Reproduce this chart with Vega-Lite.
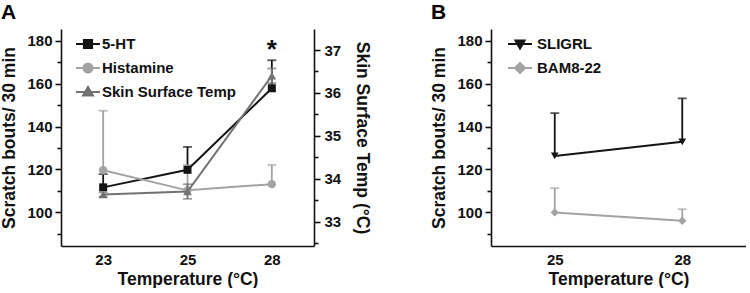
{
  "$schema": "https://vega.github.io/schema/vega-lite/v6.json",
  "padding": {"left": 0, "top": 2, "right": 0, "bottom": 0},
  "spacing": 59,
  "config": {
    "font": "Liberation Sans",
    "view": {"stroke": null},
    "axis": {
      "labelFont": "Liberation Sans", "labelFontSize": 15, "labelFontWeight": "bold", "labelColor": "#111111",
      "titleFont": "Liberation Sans", "titleFontSize": 17.5, "titleFontWeight": "bold", "titleColor": "#111111",
      "domainColor": "#111111", "domainWidth": 1.6, "tickColor": "#111111", "tickWidth": 1.6, "grid": false,
      "labelOverlap": false
    },
    "legend": {"labelFont": "Liberation Sans", "labelFontSize": 15, "labelFontWeight": "bold", "labelColor": "#111111"},
    "title": {"font": "Liberation Sans", "fontSize": 21, "fontWeight": "bold", "color": "#000000", "anchor": "start", "frame": "bounds", "offset": 6}
  },
  "datasets": {
    "a": [
      {"series": "5-HT", "temp": "23", "mean": 111.6, "upper": 117.8},
      {"series": "5-HT", "temp": "25", "mean": 119.8, "upper": 130.5},
      {"series": "5-HT", "temp": "28", "mean": 157.9, "upper": 171.0},
      {"series": "Histamine", "temp": "23", "mean": 119.6, "upper": 147.4},
      {"series": "Histamine", "temp": "25", "mean": 110.2, "upper": 122.0},
      {"series": "Histamine", "temp": "28", "mean": 113.1, "upper": 122.1}
    ],
    "skin": [
      {"series": "Skin Surface Temp", "temp": "23", "mean": 33.63, "lower": 33.58, "upper": 33.68},
      {"series": "Skin Surface Temp", "temp": "25", "mean": 33.70, "lower": 33.53, "upper": 33.87},
      {"series": "Skin Surface Temp", "temp": "28", "mean": 36.40, "lower": 36.23, "upper": 36.57}
    ],
    "star": [{"temp": "28", "y": 177.5, "label": "*"}],
    "b": [
      {"series": "SLIGRL", "temp": "25", "mean": 126.3, "upper": 146.3},
      {"series": "SLIGRL", "temp": "28", "mean": 132.9, "upper": 153.2},
      {"series": "BAM8-22", "temp": "25", "mean": 99.9, "upper": 111.2},
      {"series": "BAM8-22", "temp": "28", "mean": 96.0, "upper": 101.4}
    ]
  },
  "resolve": {"scale": {"color": "independent", "x": "independent", "y": "independent"}, "legend": {"color": "independent"}},
  "hconcat": [
    {
      "title": {"text": "A"},
      "width": 253,
      "height": 217,
      "resolve": {"scale": {"y": "independent"}, "axis": {"y": "independent"}},
      "layer": [
        {
          "data": {"name": "a"},
          "resolve": {"axis": {"y": "independent"}},
          "encoding": {
            "x": {"field": "temp", "type": "ordinal", "scale": {"type": "point", "padding": 0.5, "domain": ["23", "25", "28"]},
                  "axis": {"title": "Temperature (°C)", "labelAngle": 0, "ticks": false, "labelPadding": 6, "titlePadding": 3}}
          },
          "layer": [
            {
              "mark": {"type": "rule", "strokeWidth": 1.8},
              "encoding": {
                "y": {"field": "mean", "type": "quantitative", "scale": {"domain": [84.2, 185.6], "nice": false, "zero": false},
                      "axis": {"title": "Scratch bouts/ 30 min", "orient": "left", "values": [100, 120, 140, 160, 180],
                               "format": "d", "tickSize": 6, "labelPadding": 3, "titlePadding": 8}},
                "y2": {"field": "upper"},
                "color": {"field": "series", "type": "nominal"}
              }
            },
            {
              "mark": {"type": "tick", "thickness": 1.8, "size": 9},
              "encoding": {
                "y": {"field": "upper", "type": "quantitative",
                      "axis": {"title": null, "orient": "left", "values": [90, 110, 130, 150, 170], "labels": false, "domain": false, "tickSize": 4}},
                "color": {"field": "series", "type": "nominal"}
              }
            },
            {
              "mark": {"type": "line", "strokeWidth": 2},
              "encoding": {
                "y": {"field": "mean", "type": "quantitative", "axis": null},
                "color": {"field": "series", "type": "nominal",
                  "scale": {"domain": ["5-HT", "Histamine", "Skin Surface Temp"], "range": ["#141414", "#a3a3a3", "#727272"]},
                  "legend": {"orient": "none", "legendX": 14, "legendY": 2, "title": null, "symbolSize": 576, "symbolStrokeWidth": 2,
                    "labelOffset": 1, "rowPadding": 2, "padding": 0,
                    "encode": {"symbols": {"update": {
                      "shape": {"signal": "datum.value === '5-HT' ? 'M-1,0H1M-0.34,-0.34H0.34V0.34H-0.34Z' : datum.value === 'Histamine' ? 'M-1,0H1M-0.38,0A0.38,0.38 0 1,0 0.38,0A0.38,0.38 0 1,0 -0.38,0Z' : 'M-1,0H1M0,-0.42L0.42,0.3L-0.42,0.3Z'"},
                      "fill": {"signal": "datum.value === '5-HT' ? '#141414' : datum.value === 'Histamine' ? '#a3a3a3' : '#727272'"},
                      "stroke": {"signal": "datum.value === '5-HT' ? '#141414' : datum.value === 'Histamine' ? '#a3a3a3' : '#727272'"},
                      "opacity": {"value": 1}
                    }}}}
                }
              }
            },
            {
              "transform": [{"filter": "datum.series === 'Histamine'"}],
              "mark": {"type": "point", "filled": true, "size": 70, "opacity": 1, "shape": "circle"},
              "encoding": {
                "y": {"field": "mean", "type": "quantitative", "axis": null},
                "color": {"field": "series", "type": "nominal"}
              }
            },
            {
              "transform": [{"filter": "datum.series === '5-HT'"}],
              "mark": {"type": "point", "filled": true, "size": 64, "opacity": 1, "shape": "square"},
              "encoding": {
                "y": {"field": "mean", "type": "quantitative", "axis": null},
                "color": {"field": "series", "type": "nominal"}
              }
            },
            {
              "data": {"name": "star"},
              "mark": {"type": "text", "fontSize": 26, "fontWeight": "bold", "font": "Liberation Sans", "color": "#111111", "baseline": "middle", "dy": 4},
              "encoding": {
                "y": {"field": "y", "type": "quantitative", "axis": null},
                "text": {"field": "label"}
              }
            }
          ]
        },
        {
          "data": {"name": "skin"},
          "resolve": {"axis": {"y": "independent"}},
          "encoding": {
            "x": {"field": "temp", "type": "ordinal"}
          },
          "layer": [
            {
              "mark": {"type": "rule", "strokeWidth": 1.8},
              "encoding": {
                "y": {"field": "lower", "type": "quantitative", "scale": {"domain": [32.43, 37.49], "nice": false, "zero": false},
                      "axis": {"title": "Skin Surface Temp (°C)", "orient": "right", "values": [33, 34, 35, 36, 37],
                               "format": "d", "tickSize": 6, "labelPadding": 4, "titlePadding": 12}},
                "y2": {"field": "upper"},
                "color": {"field": "series", "type": "nominal"}
              }
            },
            {
              "mark": {"type": "tick", "thickness": 1.8, "size": 9},
              "encoding": {
                "y": {"field": "upper", "type": "quantitative",
                      "axis": {"title": null, "orient": "right", "values": [32.5, 33.5, 34.5, 35.5, 36.5, 37.5], "labels": false, "domain": false, "tickSize": 4}},
                "color": {"field": "series", "type": "nominal"}
              }
            },
            {
              "mark": {"type": "tick", "thickness": 1.8, "size": 9},
              "encoding": {
                "y": {"field": "lower", "type": "quantitative", "axis": null},
                "color": {"field": "series", "type": "nominal"}
              }
            },
            {
              "mark": {"type": "line", "strokeWidth": 2},
              "encoding": {
                "y": {"field": "mean", "type": "quantitative", "axis": null},
                "color": {"field": "series", "type": "nominal"}
              }
            },
            {
              "mark": {"type": "point", "filled": true, "size": 75, "opacity": 1, "shape": "triangle-up"},
              "encoding": {
                "y": {"field": "mean", "type": "quantitative", "axis": null},
                "color": {"field": "series", "type": "nominal"}
              }
            }
          ]
        }
      ]
    },
    {
      "title": {"text": "B"},
      "width": 255,
      "height": 217,
      "data": {"name": "b"},
      "resolve": {"axis": {"y": "independent"}},
      "encoding": {
        "x": {"field": "temp", "type": "ordinal", "scale": {"type": "point", "padding": 0.5, "domain": ["25", "28"]},
              "axis": {"title": "Temperature (°C)", "labelAngle": 0, "ticks": false, "labelPadding": 6, "titlePadding": 3}}
      },
      "layer": [
        {
          "mark": {"type": "rule", "strokeWidth": 1.8},
          "encoding": {
            "y": {"field": "mean", "type": "quantitative", "scale": {"domain": [84.2, 185.6], "nice": false, "zero": false},
                  "axis": {"title": "Scratch bouts/ 30 min", "orient": "left", "values": [100, 120, 140, 160, 180],
                           "format": "d", "tickSize": 6, "labelPadding": 3, "titlePadding": 8}},
            "y2": {"field": "upper"},
            "color": {"field": "series", "type": "nominal"}
          }
        },
        {
          "mark": {"type": "tick", "thickness": 1.8, "size": 9},
          "encoding": {
            "y": {"field": "upper", "type": "quantitative",
                  "axis": {"title": null, "orient": "left", "values": [90, 110, 130, 150, 170], "labels": false, "domain": false, "tickSize": 4}},
            "color": {"field": "series", "type": "nominal"}
          }
        },
        {
          "mark": {"type": "line", "strokeWidth": 2},
          "encoding": {
            "y": {"field": "mean", "type": "quantitative", "axis": null},
            "color": {"field": "series", "type": "nominal",
              "scale": {"domain": ["SLIGRL", "BAM8-22"], "range": ["#141414", "#a3a3a3"]},
              "legend": {"orient": "none", "legendX": 16, "legendY": 2, "title": null, "symbolSize": 576, "symbolStrokeWidth": 2,
                "labelOffset": 4, "rowPadding": 2, "padding": 0,
                "encode": {"symbols": {"update": {
                  "shape": {"signal": "datum.value === 'SLIGRL' ? 'M-1,0H1M0,0.38L0.38,-0.3L-0.38,-0.3Z' : 'M-1,0H1M0,-0.42L0.42,0L0,0.42L-0.42,0Z'"},
                  "fill": {"signal": "datum.value === 'SLIGRL' ? '#141414' : '#a3a3a3'"},
                  "stroke": {"signal": "datum.value === 'SLIGRL' ? '#141414' : '#a3a3a3'"},
                  "opacity": {"value": 1}
                }}}}
            }
          }
        },
        {
          "transform": [{"filter": "datum.series === 'SLIGRL'"}],
          "mark": {"type": "point", "filled": true, "size": 60, "opacity": 1, "shape": "triangle-down"},
          "encoding": {
            "y": {"field": "mean", "type": "quantitative", "axis": null},
            "color": {"field": "series", "type": "nominal"}
          }
        },
        {
          "transform": [{"filter": "datum.series === 'BAM8-22'"}],
          "mark": {"type": "point", "filled": true, "size": 70, "opacity": 1, "shape": "diamond"},
          "encoding": {
            "y": {"field": "mean", "type": "quantitative", "axis": null},
            "color": {"field": "series", "type": "nominal"}
          }
        }
      ]
    }
  ]
}
